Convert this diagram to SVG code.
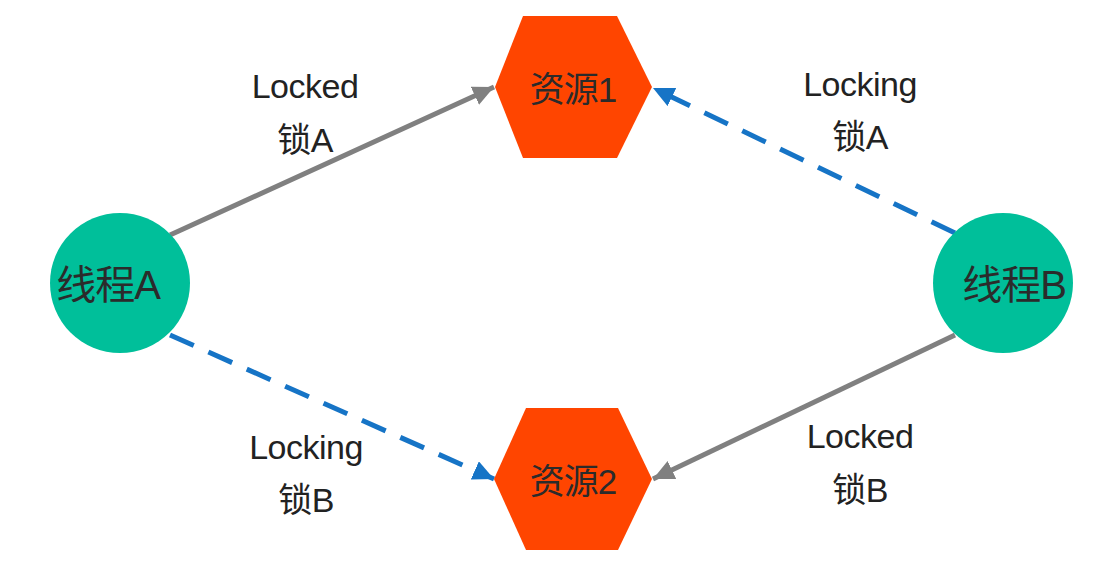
<svg xmlns="http://www.w3.org/2000/svg" width="1094" height="576" viewBox="0 0 1094 576">
<style>
.hex{fill:#ff4500}
.cir{fill:#00bf9a}
.nt{font-family:"Liberation Sans","Noto Sans CJK SC",sans-serif;font-size:35px;fill:#2b2b2b;text-anchor:middle;dominant-baseline:central;letter-spacing:-1px}
.ct{font-size:40px}
.lb{font-family:"Liberation Sans","Noto Sans CJK SC",sans-serif;font-size:34px;fill:#222;text-anchor:middle;letter-spacing:-0.5px}
.solid{stroke:#808080;stroke-width:5;fill:none}
.dash{stroke:#1674c6;stroke-width:5;fill:none;stroke-dasharray:26 16}
</style>
<defs>
<marker id="ag" markerUnits="userSpaceOnUse" markerWidth="24" markerHeight="22" refX="21" refY="10" orient="auto"><path d="M0,0 L21,10 L0,20 Z" fill="#808080"/></marker>
<marker id="ab" markerUnits="userSpaceOnUse" markerWidth="24" markerHeight="22" refX="21" refY="10" orient="auto"><path d="M0,0 L21,10 L0,20 Z" fill="#1674c6"/></marker>
</defs>
<rect width="1094" height="576" fill="#fff"/>
<g id="connectors">
<line class="solid" x1="170" y1="235" x2="494" y2="87" marker-end="url(#ag)"/>
<line class="dash" x1="955" y1="233" x2="653" y2="88" marker-end="url(#ab)"/>
<line class="dash" x1="170" y1="335" x2="494" y2="479" marker-end="url(#ab)"/>
<line class="solid" x1="955" y1="335" x2="653" y2="479" marker-end="url(#ag)"/>
</g>
<g id="labels">
<text class="lb" x="305" y="98">Locked</text>
<text class="lb" x="305" y="152">锁A</text>
<text class="lb" x="860" y="96">Locking</text>
<text class="lb" x="860" y="149">锁A</text>
<text class="lb" x="306" y="459">Locking</text>
<text class="lb" x="306" y="512">锁B</text>
<text class="lb" x="860" y="448">Locked</text>
<text class="lb" x="860" y="502">锁B</text>
</g>
<g id="res1">
<polygon class="hex" points="523,16 617,16 652,87 617,158 523,158 495,87"/>
<text class="nt" x="573" y="89">资源1</text>
</g>
<g id="res2">
<polygon class="hex" points="526,408 618,408 652,479 618,550 526,550 494,479"/>
<text class="nt" x="573" y="481">资源2</text>
</g>
<g id="threadA">
<circle class="cir" cx="120" cy="283" r="70"/>
<text class="nt ct" x="108" y="285">线程A</text>
</g>
<g id="threadB">
<circle class="cir" cx="1003" cy="283" r="70"/>
<text class="nt ct" x="1014" y="285">线程B</text>
</g>
</svg>
